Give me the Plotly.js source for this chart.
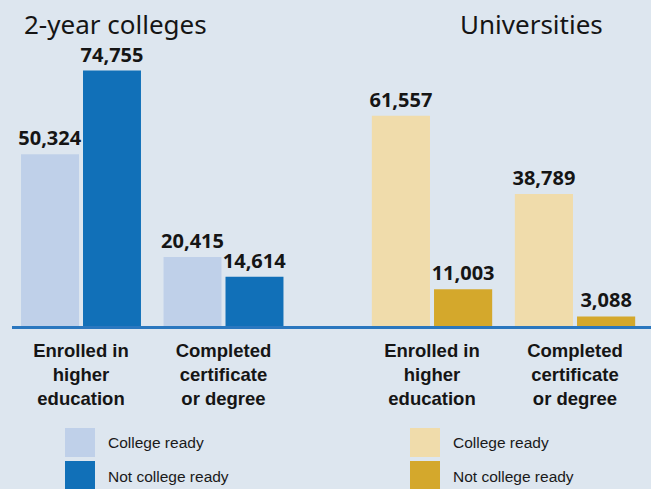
<!DOCTYPE html>
<html>
<head>
<meta charset="utf-8">
<script src="https://cdn.plot.ly/plotly-3.0.1.min.js"></script>
<style>html,body{margin:0;padding:0;background:#dde6ef;}#chart{width:651px;height:489px;}</style>
</head>
<body>
<div id="chart"></div>
<script>
const categories = ['Enrolled in<br>higher<br>education', 'Completed<br>certificate<br>or degree'];
const collegeReady2yr = [50324, 20415];
const notReady2yr = [74755, 14614];
const collegeReadyUni = [61557, 38789];
const notReadyUni = [11003, 3088];
const panelTitles = ['2-year colleges', 'Universities'];
const seriesNames = ['College ready', 'Not college ready'];
const colors2yr = ['#bfd0e9', '#1170b8'];
const colorsUni = ['#f0dcab', '#d4a82c'];

const W = 651, H = 489;
const px = x => x / W;
const py = y => 1 - y / H;
const baselineY = 327;

const valueFont = {family: 'Open Sans', size: 20, color: '#151515', weight: 700};

function barTrace(y, name, color, xa) {
  return {
    type: 'bar', x: categories, y: y, name: name, xaxis: xa, yaxis: 'y',
    marker: {color: color, line: {width: 0}},
    texttemplate: '%{y:,}', textposition: 'outside', constraintext: 'none',
    textfont: valueFont, cliponaxis: false, showlegend: false, hoverinfo: 'skip'
  };
}

const data = [
  barTrace(collegeReady2yr, seriesNames[0], colors2yr[0], 'x'),
  barTrace(notReady2yr, seriesNames[1], colors2yr[1], 'x'),
  barTrace(collegeReadyUni, seriesNames[0], colorsUni[0], 'x2'),
  barTrace(notReadyUni, seriesNames[1], colorsUni[1], 'x2')
];

const tickFont = {family: 'Liberation Sans', size: 18.5, color: '#151515', weight: 700};
const xCommon = {
  type: 'category', range: [-0.5, 1.5], showgrid: false, zeroline: false,
  showline: false, ticks: '', tickfont: tickFont, automargin: false, fixedrange: true,
  ticklabelstandoff: 10
};

const legendFont = {family: 'Liberation Sans', size: 15.5, color: '#1a1a1a'};
const shapes = [
  {type: 'line', xref: 'paper', yref: 'paper', x0: px(12), x1: 1, y0: py(baselineY + 0.5), y1: py(baselineY + 0.5),
   line: {color: '#2a77bf', width: 3}, layer: 'above'},
  {type: 'rect', xref: 'paper', yref: 'paper', x0: px(65), x1: px(95), y0: py(457), y1: py(428), fillcolor: colors2yr[0], line: {width: 0}},
  {type: 'rect', xref: 'paper', yref: 'paper', x0: px(65), x1: px(95), y0: py(489), y1: py(461), fillcolor: colors2yr[1], line: {width: 0}},
  {type: 'rect', xref: 'paper', yref: 'paper', x0: px(410), x1: px(440), y0: py(457), y1: py(428), fillcolor: colorsUni[0], line: {width: 0}},
  {type: 'rect', xref: 'paper', yref: 'paper', x0: px(410), x1: px(440), y0: py(489), y1: py(461), fillcolor: colorsUni[1], line: {width: 0}}
];

const titleFont = {family: 'Noto Sans', size: 26, color: '#151515'};
const annotations = [
  {text: panelTitles[0], xref: 'paper', yref: 'paper', x: px(22), y: py(24), xanchor: 'left', yanchor: 'middle', showarrow: false, font: titleFont},
  {text: panelTitles[1], xref: 'paper', yref: 'paper', x: px(458), y: py(24), xanchor: 'left', yanchor: 'middle', showarrow: false, font: titleFont},
  {text: seriesNames[0], xref: 'paper', yref: 'paper', x: px(106), y: py(442), xanchor: 'left', yanchor: 'middle', showarrow: false, font: legendFont},
  {text: seriesNames[1], xref: 'paper', yref: 'paper', x: px(106), y: py(476), xanchor: 'left', yanchor: 'middle', showarrow: false, font: legendFont},
  {text: seriesNames[0], xref: 'paper', yref: 'paper', x: px(451), y: py(442), xanchor: 'left', yanchor: 'middle', showarrow: false, font: legendFont},
  {text: seriesNames[1], xref: 'paper', yref: 'paper', x: px(451), y: py(476), xanchor: 'left', yanchor: 'middle', showarrow: false, font: legendFont}
];

const layout = {
  width: W, height: H,
  margin: {l: 0, r: 0, t: 0, b: 0, pad: 0},
  paper_bgcolor: '#dde6ef', plot_bgcolor: 'rgba(0,0,0,0)',
  barmode: 'group', bargap: 0.13, bargroupgap: 0.065,
  showlegend: false,
  xaxis: Object.assign({}, xCommon, {domain: [px(9.75), px(294.75)], anchor: 'y'}),
  xaxis2: Object.assign({}, xCommon, {domain: [px(360.5), px(646.5)], anchor: 'y'}),
  yaxis: {domain: [py(baselineY), 1], range: [0, 95300], visible: false, fixedrange: true, automargin: false},
  shapes: shapes,
  annotations: annotations
};

Plotly.newPlot('chart', data, layout, {displayModeBar: false, staticPlot: true});
</script>
</body>
</html>
